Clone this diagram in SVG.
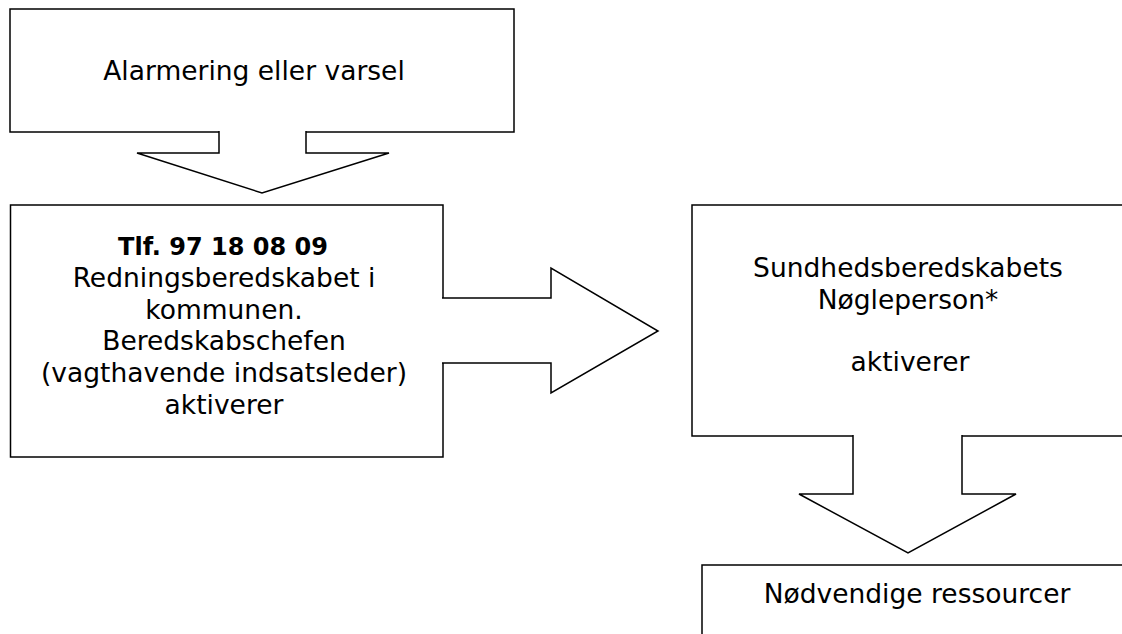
<svg xmlns="http://www.w3.org/2000/svg" width="1122" height="634" viewBox="0 0 1122 634">
<style>
.box{fill:#fff;stroke:#000;stroke-width:1.5}
.arr{fill:#fff;stroke:#000;stroke-width:1.5;stroke-linejoin:miter}
.t{font-family:"DejaVu Sans",Verdana,sans-serif;font-size:26.5px;fill:#000;text-anchor:middle}
.b{font-weight:bold;font-size:24px}
</style>
<rect width="1122" height="634" fill="#fff"/>
<g id="node-alarm">
<rect class="box" x="10" y="9" width="504" height="123"/>
<text class="t" x="254" y="80">Alarmering eller varsel</text>
</g>
<g id="node-redning">
<rect class="box" x="10.5" y="205" width="432.5" height="252"/>
<text class="t" x="223" y="255"><tspan class="b">Tlf. 97 18 08 09</tspan></text>
<text class="t" x="224" y="287">Redningsberedskabet i</text>
<text class="t" x="224" y="319">kommunen.</text>
<text class="t" x="224" y="350">Beredskabschefen</text>
<text class="t" x="224" y="382">(vagthavende indsatsleder)</text>
<text class="t" x="224" y="414">aktiverer</text>
</g>
<g id="node-sundhed">
<rect class="box" x="692" y="205" width="440" height="231"/>
<text class="t" x="908" y="277">Sundhedsberedskabets</text>
<text class="t" x="908" y="309">Nøgleperson*</text>
<text class="t" x="910" y="371">aktiverer</text>
</g>
<g id="node-ressourcer">
<rect class="box" x="702" y="565" width="440" height="80"/>
<text class="t" x="917" y="603">Nødvendige ressourcer</text>
</g>
<g id="connectors">
<path class="arr" d="M219,131 V153 H137 L262,193 L389,153 H306 V131"/>
<path class="arr" d="M442,298 H551 V268 L658,331 L551,393 V363 H442"/>
<path class="arr" d="M853,435 V494 H799 L908,553 L1016,494 H962 V435"/>
</g>
</svg>
